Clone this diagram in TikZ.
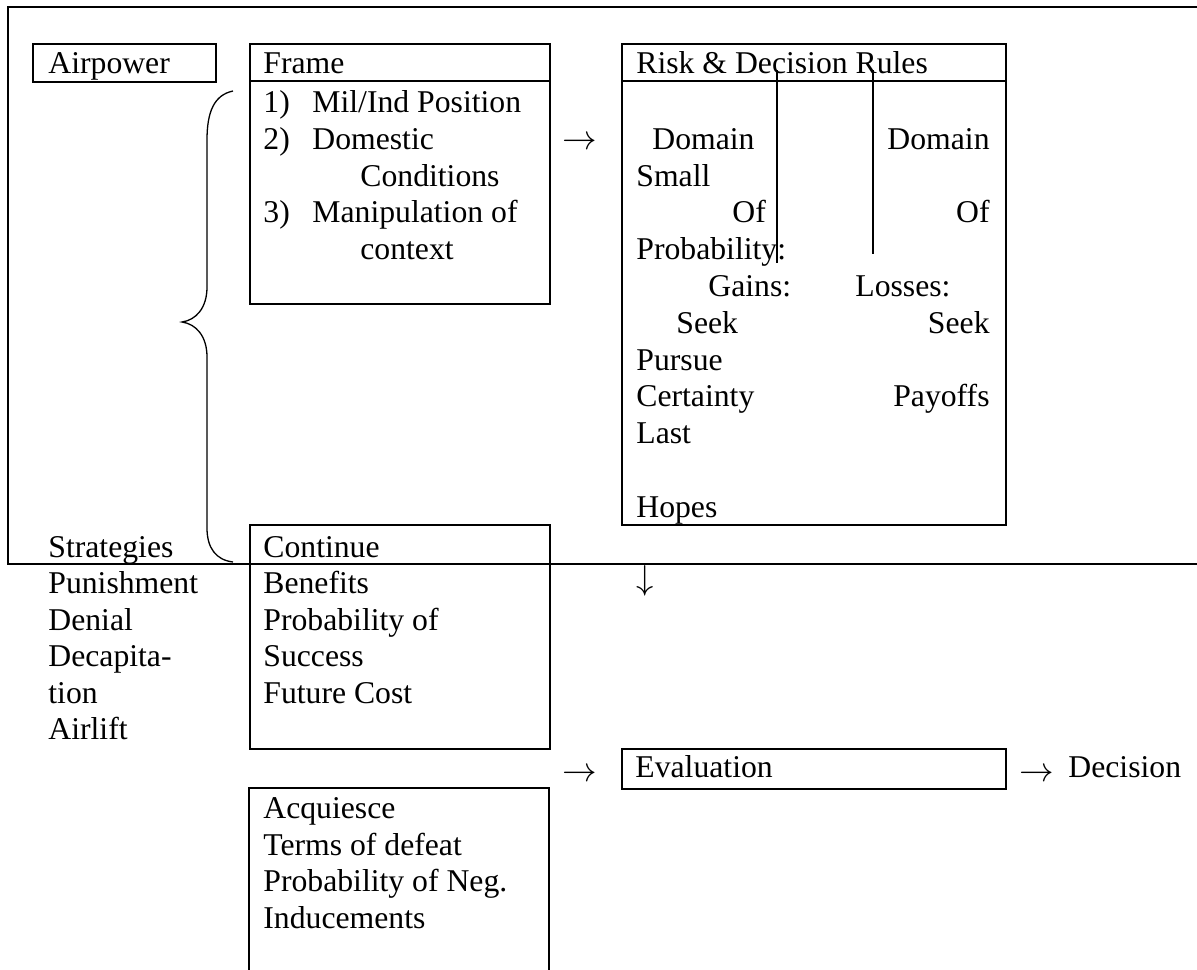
\documentclass[tikz,border=0pt]{standalone}
\usepackage{fontspec}
\setmainfont{Liberation Serif}
\newcommand{\fs}{\fontsize{15.85pt}{18.3pt}\selectfont}
\begin{document}
\begin{tikzpicture}[x=0.5pt,y=-0.5pt,
  txt/.style={inner sep=0pt, anchor=base west, font=\fs},
  rtxt/.style={inner sep=0pt, anchor=base east, font=\fs},
  arr/.style={inner sep=0pt, anchor=base west, font=\fs},
  box/.style={draw, line width=0.85pt, inner sep=0pt, anchor=north west},
  thinline/.style={line width=0.65pt},
  rule/.style={line width=0.85pt}]
\useasboundingbox (0,0) rectangle (1197,969);
% outer frame (open to the right)
\coordinate (otr) at (1205,7);
\coordinate (otl) at (8,7);
\coordinate (obl) at (8,564);
\coordinate (obr) at (1205,564);
\draw[thinline] (otr) -- (otl) -- (obl) -- (obr);
% boxes
\node[box, minimum width=91.5pt, minimum height=19pt] (airbox) at (32,43) {};
\node[box, minimum width=150pt, minimum height=130pt] (framebox) at (249,43) {};
\node[box, minimum width=192pt, minimum height=240.5pt] (riskbox) at (621,43) {};
\node[box, minimum width=150pt, minimum height=112pt] (contbox) at (249,524) {};
\node[box, minimum width=192pt, minimum height=20pt] (evalbox) at (621,748) {};
\coordinate (acqbl) at (249,975);
\coordinate (acqtl) at (249,788);
\coordinate (acqtr) at (549,788);
\coordinate (acqbr) at (549,975);
\draw[rule] (acqbl) -- (acqtl) -- (acqtr) -- (acqbr);
% header dividers
\draw[rule] (framebox.west |- 0,81) -- (framebox.east |- 0,81);
\draw[rule] (riskbox.west |- 0,81) -- (riskbox.east |- 0,81);
% brace
\coordinate (brtop) at (233,91);
\coordinate (brtip) at (182,322);
\coordinate (brbot) at (233,562);
\draw[thinline] (brtop) .. controls (214,95) and (207,112) .. (207,140)
  -- (207,287) .. controls (207,308) and (196,320) .. (brtip)
  .. controls (196,324) and (207,336) .. (207,357)
  -- (207,528) .. controls (207,548) and (216,560) .. (brbot);
% stray vertical lines in risk box
\coordinate (v1a) at (777,70); \coordinate (v1b) at (777,263);
\coordinate (v2a) at (873,70); \coordinate (v2b) at (873,254);
\draw[rule] (v1a) -- (v1b);
\draw[rule] (v2a) -- (v2b);
% texts: top-left
\node[txt] (tair) at (48,73.5) {Airpower};
\node[txt] (tframe) at (263,73.5) {Frame};
\node[txt] (n1) at (263,112.5) {1)};
\node[txt] (f1) at (312,112.5) {Mil/Ind Position};
\node[txt] (n2) at (263,149.3) {2)};
\node[txt] (f2) at (312,149.3) {Domestic};
\node[txt] (f3) at (360,186.1) {Conditions};
\node[txt] (n3) at (263,222.9) {3)};
\node[txt] (f4) at (312,222.9) {Manipulation of};
\node[txt] (f5) at (360,259.7) {context};
\node[arr] (a1) at (562,149.3) {$\rightarrow$};
% risk box texts
\node[txt] (trisk) at (636,73.5) {Risk \& Decision Rules};
\node[txt] (r1) at (652,149.3) {Domain};
\node[rtxt] (r1b) at (990,149.3) {Domain};
\node[txt] (r2) at (636,186.1) {Small};
\node[txt] (r3) at (732,222.9) {Of};
\node[rtxt] (r3b) at (990,222.9) {Of};
\node[txt] (r4) at (636,259.7) {Probability:};
\node[txt] (r5) at (708,296.5) {Gains:};
\node[txt] (r5b) at (855,296.5) {Losses:};
\node[txt] (r6) at (676,333.3) {Seek};
\node[rtxt] (r6b) at (990,333.3) {Seek};
\node[txt] (r7) at (636,370.1) {Pursue};
\node[txt] (r8) at (636,406.9) {Certainty};
\node[rtxt] (r8b) at (990,406.9) {Payoffs};
\node[txt] (r9) at (636,443.7) {Last};
\node[txt] (r10) at (636,517.3) {Hopes};
\node[inner sep=0pt, anchor=base, font=\fs] (a2) at (645,589) {$\downarrow$};
% strategies column
\node[txt] (s1) at (48,557.5) {Strategies};
\node[txt] (s2) at (48,593.9) {Punishment};
\node[txt] (s3) at (48,630.3) {Denial};
\node[txt] (s4) at (48,666.7) {Decapita-};
\node[txt] (s5) at (48,703.1) {tion};
\node[txt] (s6) at (48,739.5) {Airlift};
% continue box
\node[txt] (c1) at (263,557.5) {Continue};
\node[txt] (c2) at (263,593.9) {Benefits};
\node[txt] (c3) at (263,630.3) {Probability of};
\node[txt] (c4) at (263,666.7) {Success};
\node[txt] (c5) at (263,703.1) {Future Cost};
% evaluation row
\node[arr] (a3) at (562,781) {$\rightarrow$};
\node[txt] (tev) at (635,777) {Evaluation};
\node[arr] (a4) at (1019,781) {$\rightarrow$};
\node[txt] (tdec) at (1068,777) {Decision};
% acquiesce box
\node[txt] (q1) at (263,818.5) {Acquiesce};
\node[txt] (q2) at (263,855.2) {Terms of defeat};
\node[txt] (q3) at (263,891.9) {Probability of Neg.};
\node[txt] (q4) at (263,928.6) {Inducements};
\end{tikzpicture}
\end{document}
